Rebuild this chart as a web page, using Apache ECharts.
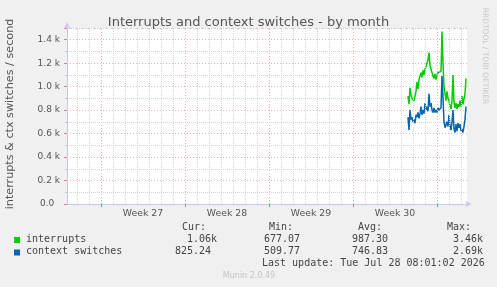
<!DOCTYPE html>
<html>
<head>
<meta charset="utf-8">
<script src="https://cdn.jsdelivr.net/npm/echarts@6/dist/echarts.min.js"></script>
<style>
html,body{margin:0;padding:0;background:#f0f0f0;}
#chart{width:497px;height:287px;}
</style>
</head>
<body>
<div id="chart"></div>
<script>
// Time axis in hours since the start of the 33-day window
const windowHours = 800;
const firstSampleHour = 682;
const sampleStepHours = 2;
const weekStartHours = [68, 236, 404, 572, 740];
const weekLabels = ['Week 27', 'Week 28', 'Week 29', 'Week 30'];
const weekLabelHours = [152, 320, 488, 656];

const interrupts = [920, 850, 990, 930, 900, 910, 880, 890, 960, 1040,
  980, 1060, 1070, 1120, 1080, 1140, 1100, 1150, 1170, 1160,
  1230, 1290, 1180, 1150, 1140, 1090, 1070, 1110, 1060, 1100,
  1120, 1110, 1110, 1130, 1470, 1200, 1000, 940, 880, 960,
  900, 880, 830, 810, 880, 1100, 870, 820, 860, 810,
  850, 830, 880, 830, 920, 850, 860, 940, 1070];
const contextSwitches = [740, 630, 800, 720, 740, 700, 720, 690, 760, 740,
  780, 730, 770, 830, 760, 800, 770, 860, 800, 830,
  790, 940, 830, 860, 800, 780, 820, 780, 800, 780,
  820, 800, 810, 820, 1090, 900, 700, 650, 640, 700,
  660, 760, 660, 630, 700, 800, 640, 610, 680, 620,
  690, 650, 680, 620, 640, 610, 660, 720, 830];

const legendNames = ['interrupts', 'context switches'];
const curValues = ['  1.06k', '825.24 '];
const minValues = ['677.07 ', '509.77 '];
const avgValues = ['987.30 ', '746.83 '];
const maxValues = ['  3.46k', '  2.69k'];
const colors = ['#00cc00', '#0066b3'];

function pts(vals) {
  return vals.map((v, i) => [firstSampleHour + i * sampleStepHours, v]);
}

const minorDays = [];
for (let h = 20; h < windowHours; h += 24) {
  if (!weekStartHours.includes(h)) minorDays.push(h);
}

const chart = echarts.init(document.getElementById('chart'), null, {renderer: 'canvas'});

const mono = '"DejaVu Sans Mono", monospace';
const sans = '"DejaVu Sans", sans-serif';
const gridGray = '#d4d4d4';
const gridRed = '#f0b0b0';
const legendGraphics = [];
const hdrY = 228;
[['Cur:', 182], ['Min:', 269], ['Avg:', 358], ['Max:', 447]].forEach(([t, x]) => {
  legendGraphics.push({type: 'text', left: x, top: hdrY - 6, style: {text: t, font: '10px ' + mono, fill: '#444'}});
});
legendNames.forEach((name, i) => {
  const y = 240 + i * 12.5;
  legendGraphics.push({type: 'rect', shape: {x: 14, y: y - 3, width: 6, height: 6}, style: {fill: colors[i]}});
  legendGraphics.push({type: 'text', left: 26, top: y - 6, style: {text: name, font: '10px ' + mono, fill: '#444'}});
  legendGraphics.push({type: 'text', left: 175, top: y - 6, style: {text: curValues[i], font: '10px ' + mono, fill: '#444'}});
  legendGraphics.push({type: 'text', left: 264, top: y - 6, style: {text: minValues[i], font: '10px ' + mono, fill: '#444'}});
  legendGraphics.push({type: 'text', left: 352, top: y - 6, style: {text: avgValues[i], font: '10px ' + mono, fill: '#444'}});
  legendGraphics.push({type: 'text', left: 441, top: y - 6, style: {text: maxValues[i], font: '10px ' + mono, fill: '#444'}});
});
legendGraphics.push({type: 'text', left: 262, top: 258, style: {text: 'Last update: Tue Jul 28 08:01:02 2026', font: '10px ' + mono, fill: '#444'}});
legendGraphics.push({type: 'text', x: 249, y: 276, style: {text: 'Munin 2.0.49', font: '8px ' + sans, fill: '#c4c4c4', align: 'center', verticalAlign: 'middle'}});
legendGraphics.push({type: 'text', x: 485, y: 56, rotation: -Math.PI / 2, style: {text: 'RRDTOOL / TOBI OETIKER', font: '7.5px ' + sans, fill: '#c8c8c8', align: 'center', verticalAlign: 'middle'}});
legendGraphics.push({type: 'text', x: 10, y: 114, rotation: Math.PI / 2, style: {text: 'interrupts & ctx switches / second', font: '11.2px ' + sans, fill: '#555', align: 'center', verticalAlign: 'middle'}});

const option = {
  backgroundColor: '#f0f0f0',
  animation: false,
  title: {
    text: 'Interrupts and context switches - by month',
    left: 'center', top: 11,
    textStyle: {fontFamily: sans, fontSize: 13, fontWeight: 'normal', color: '#555'}
  },
  grid: {left: 67, right: 30, top: 28, bottom: 83, show: true, backgroundColor: '#ffffff', borderWidth: 0},
  xAxis: {
    type: 'value', min: 0, max: windowHours,
    axisLine: {show: true, lineStyle: {color: '#c8c8f0', width: 1}, symbol: ['none', 'arrow'], symbolSize: [5, 7], symbolOffset: [0, 5]},
    axisTick: {show: true, customValues: weekStartHours, length: 3, lineStyle: {color: '#e08080'}},
    axisLabel: {show: true, customValues: weekLabelHours, formatter: v => weekLabels[weekLabelHours.indexOf(v)] || '', fontFamily: sans, fontSize: 9.3, color: '#555', margin: 5},
    splitLine: {show: false}
  },
  yAxis: {
    type: 'value', min: 0, max: 1500, interval: 200,
    axisLine: {show: true, lineStyle: {color: '#c8c8f0', width: 1}, symbol: ['none', 'arrow'], symbolSize: [5, 7], symbolOffset: [0, 6]},
    axisTick: {show: true, length: 3, lineStyle: {color: '#e08080'}},
    minorTick: {show: true, splitNumber: 2, length: 2, lineStyle: {color: '#c0c0c0'}},
    axisLabel: {fontFamily: sans, fontSize: 9, color: '#555', margin: 7, showMaxLabel: false,
      formatter: v => v === 0 ? '0.0  ' : (v >= 1500 ? '' : (v / 1000).toFixed(1) + ' k')},
    splitLine: {show: true, lineStyle: {color: gridRed, type: [1, 2], width: 1}},
    minorSplitLine: {show: true, lineStyle: {color: gridGray, type: [1, 1], width: 1}}
  },
  series: [
    {
      name: 'grid', type: 'line', data: [], silent: true,
      markLine: {
        silent: true, symbol: 'none', label: {show: false}, animation: false,
        data: minorDays.map(h => ({xAxis: h, lineStyle: {color: gridGray, type: [1, 1], width: 1}}))
          .concat(weekStartHours.map(h => ({xAxis: h, lineStyle: {color: gridRed, type: [1, 2], width: 1}})))
          .concat([{yAxis: 1500, lineStyle: {color: gridGray, type: [1, 1], width: 1}}])
      }
    },
    {name: legendNames[0], type: 'line', data: pts(interrupts), showSymbol: false, lineStyle: {color: colors[0], width: 1.5}, itemStyle: {color: colors[0]}},
    {name: legendNames[1], type: 'line', data: pts(contextSwitches), showSymbol: false, lineStyle: {color: colors[1], width: 1.5}, itemStyle: {color: colors[1]}}
  ],
  graphic: legendGraphics
};
chart.setOption(option);
</script>
</body>
</html>
